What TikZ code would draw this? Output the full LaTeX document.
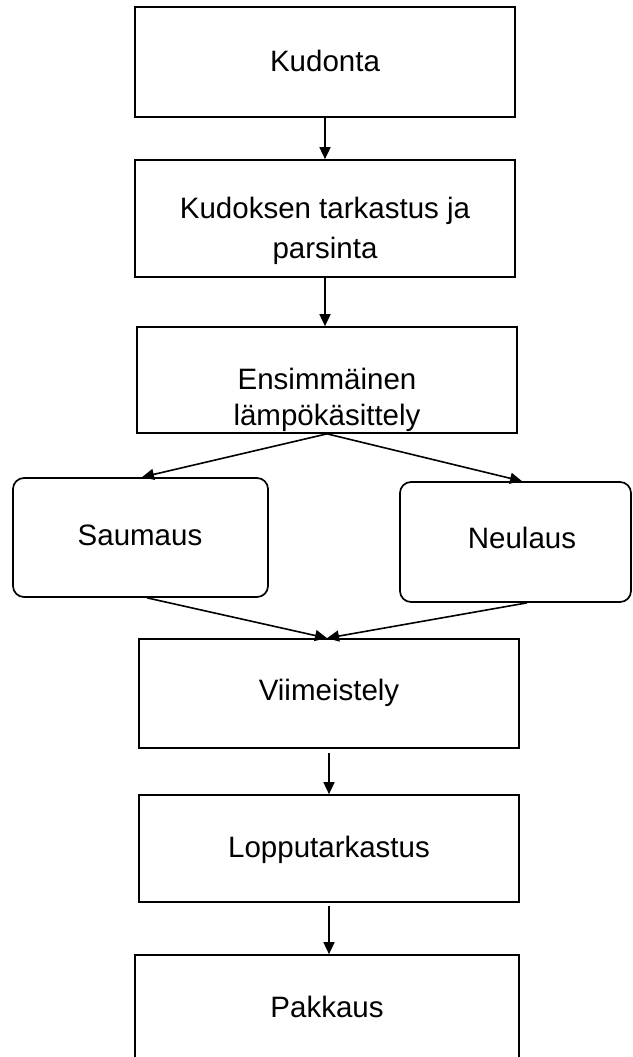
\documentclass[tikz,border=0pt]{standalone}
\usepackage{fontspec}
\setmainfont{Liberation Sans}
\usetikzlibrary{arrows.meta}
\tikzset{
  boxnode/.style={draw=black, line width=1.7pt, rectangle, inner sep=0pt},
  roundnode/.style={boxnode, rounded corners=11pt},
  txt/.style={font=\fontsize{29.5}{36}\selectfont, inner sep=0pt, anchor=base},
  arr/.style={line width=1.6pt, -{Triangle[length=12pt,width=11pt]}}
}
\newcommand{\twolines}[3]{\begin{tabular}[t]{@{}c@{}}#1\\[#3]#2\end{tabular}}
\begin{document}
\begin{tikzpicture}[x=1pt,y=-1pt]
\useasboundingbox (0,0) rectangle (632,1057);
% boxes
\node[boxnode, minimum width=380pt, minimum height=110pt] (b1) at (325,62) {};
\node[boxnode, minimum width=380pt, minimum height=117pt] (b2) at (325,218.5) {};
\node[boxnode, minimum width=380pt, minimum height=106pt] (b3) at (327,380) {};
\node[roundnode, minimum width=255pt, minimum height=119pt] (sau) at (140.5,537.5) {};
\node[roundnode, minimum width=231pt, minimum height=120pt] (neu) at (515.5,542) {};
\node[boxnode, minimum width=380pt, minimum height=109pt] (b4) at (329,693.5) {};
\node[boxnode, minimum width=380pt, minimum height=107pt] (b5) at (329,848.5) {};
\node[boxnode, minimum width=384pt, minimum height=110pt] (b6) at (327,1010) {};
% texts
\node[txt] (t1) at (325,71) {Kudonta};
\node[txt] (t2) at (325,218) {\twolines{Kudoksen tarkastus ja}{parsinta}{4pt}};
\node[txt] (t3) at (327,389) {\twolines{Ensimmäinen}{lämpökäsittely}{0pt}};
\node[txt] (t4) at (140,545) {Saumaus};
\node[txt] (t5) at (522,548) {Neulaus};
\node[txt] (t6) at (329,700) {Viimeistely};
\node[txt] (t7) at (329,857) {Lopputarkastus};
\node[txt] (t8) at (327,1017) {Pakkaus};
% connectors
\draw[arr] (b1.south) -- (b2.north);
\draw[arr] (b2.south) -- (b2.south |- b3.north);
\draw[arr] (b3.south) -- ([xshift=1.5pt]sau.north);
\draw[arr] (b3.south) -- ([xshift=6.5pt]neu.north);
\draw[arr] ([xshift=6.5pt]sau.south) -- ([xshift=-2pt]b4.north);
\draw[arr] ([xshift=11.5pt]neu.south) -- ([xshift=-2pt]b4.north);
\draw[arr] ([yshift=-4pt]b4.south) -- (b5.north);
\draw[arr] ([yshift=-3pt]b5.south) -- (b5.south |- b6.north);
\end{tikzpicture}
\end{document}
